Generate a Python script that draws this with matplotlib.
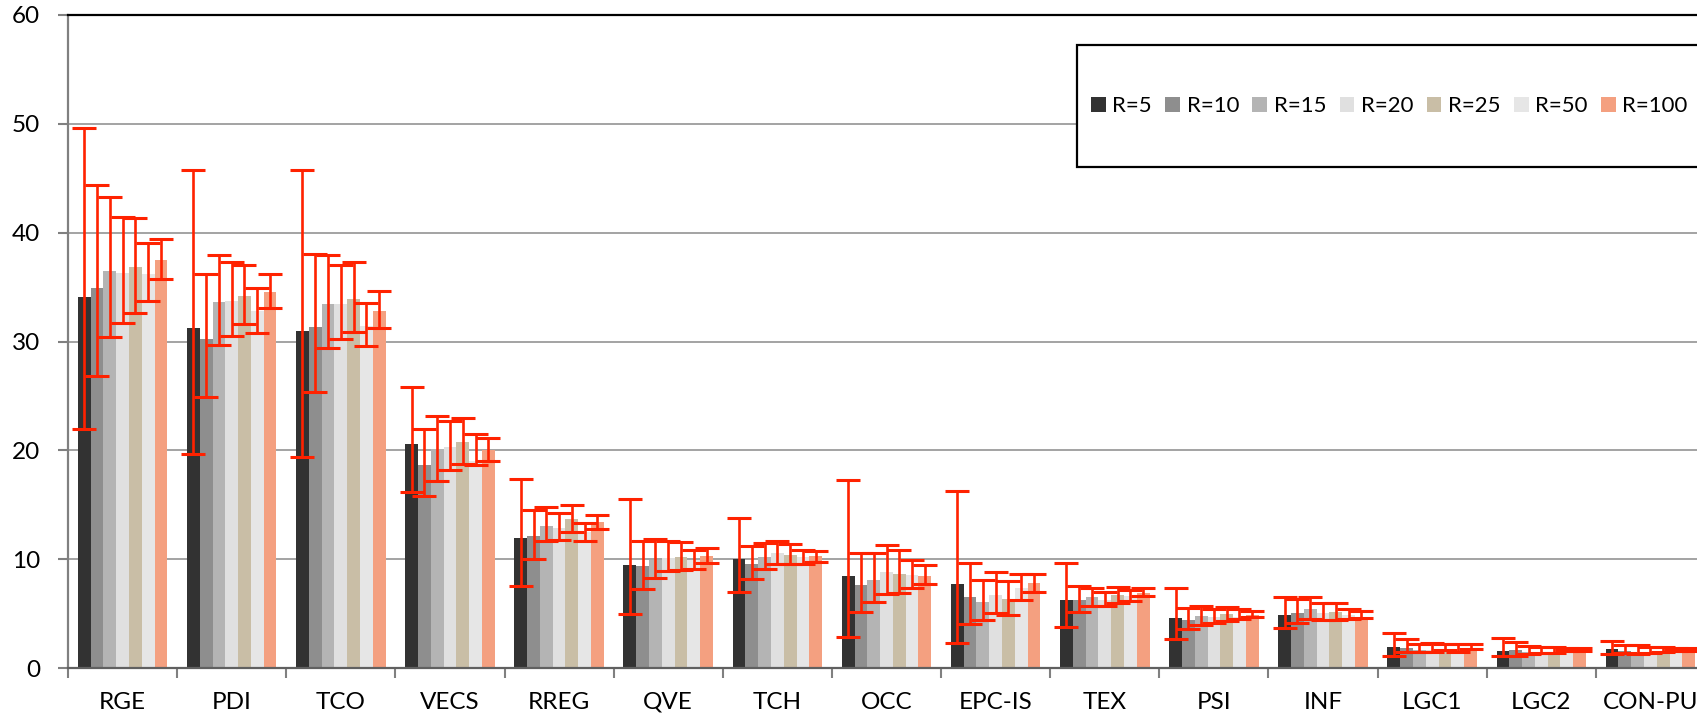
import matplotlib
matplotlib.use("Agg")
import matplotlib.pyplot as plt
import numpy as np
from matplotlib.patches import Rectangle

plt.rcParams['font.family'] = ['Lato', 'DejaVu Sans']

categories = ["RGE", "PDI", "TCO", "VECS", "RREG", "QVE", "TCH", "OCC",
              "EPC-IS", "TEX", "PSI", "INF", "LGC1", "LGC2", "CON-PU"]
series_names = ["R=5", "R=10", "R=15", "R=20", "R=25", "R=50", "R=100"]

# bar heights per series (one value per category)
r5   = [34.1, 31.2, 31.0, 20.6, 12.0, 9.45, 10.06, 8.5, 7.7, 6.3, 4.6, 4.9, 2.0, 1.6, 1.75]
r10  = [34.9, 30.2, 31.3, 18.7, 12.1, 9.35, 9.6, 7.65, 6.5, 6.3, 4.45, 5.1, 1.9, 1.7, 1.6]
r15  = [36.5, 33.6, 33.4, 20.1, 13.1, 9.9, 10.2, 8.1, 6.1, 6.5, 4.8, 5.45, 1.7, 1.5, 1.45]
r20  = [36.3, 33.7, 33.4, 20.3, 12.9, 10.1, 10.6, 8.8, 6.7, 6.3, 4.75, 5.1, 1.65, 1.5, 1.5]
r25  = [36.8, 34.2, 33.9, 20.8, 13.7, 10.2, 10.4, 8.7, 6.4, 6.7, 4.95, 5.2, 1.7, 1.5, 1.6]
r50  = [36.2, 32.8, 31.4, 19.0, 12.5, 9.9, 10.2, 8.6, 7.4, 6.6, 4.7, 4.9, 1.7, 1.65, 1.65]
r100 = [37.5, 34.5, 32.8, 20.0, 13.4, 10.3, 10.3, 8.5, 7.8, 6.95, 4.9, 4.7, 1.8, 1.7, 1.7]

# upper ends of the error bars
r5_hi   = [49.6, 45.7, 45.7, 25.8, 17.4, 15.5, 13.8, 17.3, 16.3, 9.7, 7.4, 6.5, 3.2, 2.75, 2.5]
r10_hi  = [44.4, 36.2, 38.0, 22.0, 14.5, 11.7, 11.2, 10.6, 9.7, 7.6, 5.5, 6.4, 2.7, 2.45, 2.15]
r15_hi  = [43.3, 37.9, 37.9, 23.2, 14.8, 11.9, 11.5, 10.6, 8.1, 7.4, 5.7, 6.5, 2.2, 2.05, 2.15]
r20_hi  = [41.4, 37.3, 37.0, 22.7, 14.3, 11.7, 11.7, 11.3, 8.8, 7.0, 5.4, 6.0, 2.3, 2.0, 2.0]
r25_hi  = [41.3, 37.0, 37.3, 23.0, 15.0, 11.6, 11.4, 10.9, 8.0, 7.5, 5.6, 6.0, 2.25, 1.95, 2.0]
r50_hi  = [39.0, 34.9, 33.5, 21.5, 13.3, 10.9, 10.9, 9.9, 8.7, 7.2, 5.4, 5.45, 2.2, 1.9, 1.85]
r100_hi = [39.4, 36.2, 34.6, 21.1, 14.1, 11.0, 10.8, 9.45, 8.7, 7.35, 5.3, 5.3, 2.2, 1.85, 1.9]

# lower ends of the error bars
r5_lo   = [22.0, 19.7, 19.4, 16.2, 7.6, 5.0, 7.0, 2.9, 2.3, 3.8, 2.7, 3.7, 1.15, 1.15, 1.3]
r10_lo  = [26.8, 24.9, 25.4, 15.8, 10.0, 7.3, 8.2, 5.2, 4.1, 5.15, 3.6, 4.15, 1.5, 1.15, 1.4]
r15_lo  = [30.4, 29.7, 29.4, 17.2, 11.65, 8.3, 9.1, 6.1, 4.4, 5.7, 4.0, 4.5, 1.5, 1.35, 1.35]
r20_lo  = [31.7, 30.5, 30.2, 18.2, 11.8, 8.9, 9.6, 6.8, 5.1, 5.7, 4.15, 4.4, 1.5, 1.45, 1.45]
r25_lo  = [32.6, 31.6, 30.9, 18.8, 12.5, 9.0, 9.6, 6.9, 4.9, 6.0, 4.3, 4.4, 1.65, 1.4, 1.5]
r50_lo  = [33.7, 30.8, 29.6, 18.7, 11.7, 9.15, 9.6, 7.4, 6.3, 6.2, 4.5, 4.5, 1.5, 1.55, 1.6]
r100_lo = [35.7, 33.1, 31.2, 19.0, 12.8, 9.7, 9.8, 7.7, 7.0, 6.6, 4.7, 4.6, 1.75, 1.6, 1.6]

y_ticks = [0, 10, 20, 30, 40, 50, 60]

means = [r5, r10, r15, r20, r25, r50, r100]
highs = [r5_hi, r10_hi, r15_hi, r20_hi, r25_hi, r50_hi, r100_hi]
lows = [r5_lo, r10_lo, r15_lo, r20_lo, r25_lo, r50_lo, r100_lo]
colors = ['#323232', '#8e8e8e', '#b4b4b4', '#e0e0e0', '#c9bea6', '#e6e6e6', '#f4a080']
err_color = '#ff2200'

W, H = 1697, 717
fig = plt.figure(figsize=(W / 100, H / 100), dpi=100)
left = 68 / W
bottom = (H - 668.3) / H
top = (H - 14.7) / H
width = (1705 - 68) / W
ax = fig.add_axes([left, bottom, width, top - bottom])

n_series = len(series_names)
x = np.arange(len(categories))
group_w = 0.82
bw = group_w / n_series

for i in range(n_series):
    pos = x - group_w / 2 + bw * (i + 0.5)
    ax.bar(pos, means[i], width=bw, color=colors[i], linewidth=0,
           label=series_names[i], zorder=2)

for i in range(n_series):
    pos = x - group_w / 2 + bw * (i + 0.5)
    m = np.array(means[i])
    yerr = [np.clip(m - np.array(lows[i]), 0, None),
            np.clip(np.array(highs[i]) - m, 0, None)]
    ax.errorbar(pos, m, yerr=yerr, fmt='none', ecolor=err_color,
                elinewidth=1.9, capsize=8.5, capthick=2.2, zorder=5)

ax.set_xlim(-0.5, len(categories) - 0.5)
ax.set_ylim(0, 60)
ax.set_yticks(y_ticks)
ax.set_yticklabels([str(v) for v in y_ticks])
ax.yaxis.grid(True, color='#8a8a8a', linewidth=1.1, zorder=0)
ax.set_axisbelow(True)

ax.set_xticks(np.arange(-0.5, len(categories), 1.0))
ax.set_xticklabels([])
ax.set_xticks(x, minor=True)
ax.set_xticklabels(categories, minor=True)
ax.tick_params(axis='x', which='major', length=7, width=1.5, color='#808080', direction='out')
ax.tick_params(axis='x', which='minor', length=0, pad=17, labelsize=17.5)
ax.tick_params(axis='y', length=7, width=1.5, color='#808080', pad=13, labelsize=17.5)

ax.spines['right'].set_visible(False)
ax.spines['left'].set_color('#808080')
ax.spines['left'].set_linewidth(1.6)
ax.spines['bottom'].set_color('#606060')
ax.spines['bottom'].set_linewidth(1.6)
ax.spines['top'].set_color('black')
ax.spines['top'].set_linewidth(1.6)

# legend frame
fig.patches.append(Rectangle((1077 / W, (H - 167) / H), (1710 - 1077) / W, (167 - 45) / H,
                             transform=fig.transFigure, facecolor='white',
                             edgecolor='black', linewidth=1.6, zorder=10))
handles, labels = ax.get_legend_handles_labels()
leg = fig.legend(handles, labels, loc='center left', ncol=7,
                 bbox_to_anchor=(1091 / W, (H - 106) / H), frameon=False,
                 fontsize=16, handlelength=0.66, handleheight=0.66,
                 handletextpad=0.3, columnspacing=0.6, borderpad=0,
                 borderaxespad=0)
leg.set_zorder(11)

fig.savefig("out.png", dpi=100)
